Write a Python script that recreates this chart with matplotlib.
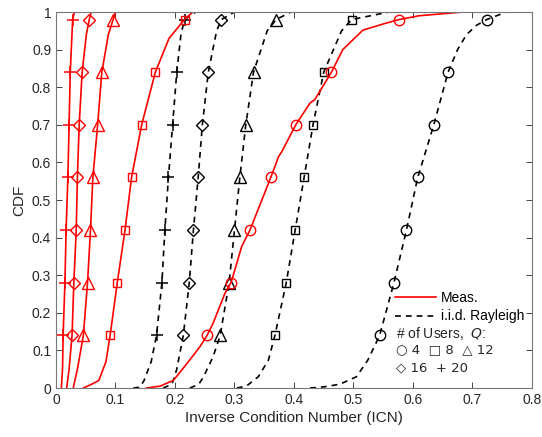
import numpy as np
import matplotlib.pyplot as plt
from matplotlib.lines import Line2D

# CDF levels where the markers sit
mark_levels = [0.14, 0.28, 0.42, 0.56, 0.70, 0.84, 0.98]

meas_q4_icn = [0.152, 0.175, 0.197, 0.205, 0.225, 0.242, 0.254, 0.264, 0.284, 0.294, 0.298, 0.312,
               0.326, 0.346, 0.361, 0.374, 0.380, 0.403, 0.427, 0.435, 0.463, 0.482, 0.516, 0.556,
               0.577, 0.610, 0.684]
meas_q4_cdf = [0.0, 0.005, 0.02, 0.035, 0.075, 0.11, 0.14, 0.172, 0.252, 0.28, 0.30, 0.376,
               0.42, 0.50, 0.56, 0.615, 0.63, 0.70, 0.758, 0.767, 0.84, 0.90, 0.952, 0.971,
               0.98, 0.99, 1.0]

meas_q8_icn = [0.046, 0.060, 0.072, 0.084, 0.091, 0.103, 0.116, 0.127, 0.144, 0.167, 0.190, 0.216, 0.230]
meas_q8_cdf = [0.0, 0.01, 0.02, 0.07, 0.14, 0.28, 0.42, 0.56, 0.70, 0.84, 0.93, 0.98, 1.0]

meas_q12_icn = [0.029, 0.036, 0.046, 0.053, 0.058, 0.062, 0.070, 0.077, 0.088, 0.096, 0.100]
meas_q12_cdf = [0.0, 0.05, 0.14, 0.28, 0.42, 0.56, 0.70, 0.84, 0.94, 0.98, 1.0]

meas_q16_icn = [0.018, 0.022, 0.027, 0.030, 0.034, 0.036, 0.039, 0.044, 0.051, 0.056, 0.059]
meas_q16_cdf = [0.0, 0.05, 0.14, 0.28, 0.42, 0.56, 0.70, 0.84, 0.94, 0.98, 1.0]

meas_q20_icn = [0.009, 0.011, 0.012, 0.015, 0.017, 0.020, 0.022, 0.024, 0.028, 0.031]
meas_q20_cdf = [0.0, 0.05, 0.14, 0.28, 0.42, 0.56, 0.70, 0.84, 0.98, 1.0]

# i.i.d. Rayleigh curves (black dashed)
iid_q4_icn = [0.427, 0.450, 0.477, 0.505, 0.524, 0.544, 0.568, 0.589, 0.608, 0.635, 0.659, 0.675,
              0.690, 0.707, 0.724, 0.757]
iid_q4_cdf = [0.0, 0.003, 0.01, 0.03, 0.074, 0.14, 0.28, 0.42, 0.56, 0.70, 0.84, 0.90,
              0.94, 0.965, 0.98, 1.0]

iid_q8_icn = [0.304, 0.320, 0.340, 0.357, 0.368, 0.387, 0.402, 0.417, 0.432, 0.450, 0.480, 0.497, 0.560]
iid_q8_cdf = [0.0, 0.005, 0.03, 0.074, 0.14, 0.28, 0.42, 0.56, 0.70, 0.84, 0.95, 0.98, 1.0]

iid_q12_icn = [0.225, 0.240, 0.248, 0.264, 0.276, 0.291, 0.300, 0.309, 0.319, 0.332, 0.355, 0.370, 0.395]
iid_q12_cdf = [0.0, 0.01, 0.03, 0.083, 0.14, 0.28, 0.42, 0.56, 0.70, 0.84, 0.95, 0.98, 1.0]

iid_q16_icn = [0.180, 0.195, 0.203, 0.214, 0.224, 0.231, 0.239, 0.246, 0.256, 0.270, 0.278, 0.300]
iid_q16_cdf = [0.0, 0.01, 0.05, 0.14, 0.28, 0.42, 0.56, 0.70, 0.84, 0.95, 0.98, 1.0]

iid_q20_icn = [0.130, 0.141, 0.148, 0.160, 0.169, 0.178, 0.183, 0.189, 0.196, 0.203, 0.210, 0.216, 0.235]
iid_q20_cdf = [0.0, 0.002, 0.02, 0.07, 0.14, 0.28, 0.42, 0.56, 0.70, 0.84, 0.94, 0.98, 1.0]

# marker style per number of users
marker_q4 = dict(marker='o', markersize=7.5)
marker_q8 = dict(marker='s', markersize=6)
marker_q12 = dict(marker='^', markersize=8)
marker_q16 = dict(marker='D', markersize=6)
marker_q20 = dict(marker='+', markersize=9, markeredgewidth=1.1)

plt.rcParams['font.family'] = ['Liberation Sans', 'DejaVu Sans']
txt_col = '#262626'

fig = plt.figure(figsize=(5.42, 4.37), dpi=100)
ax = fig.add_axes([0.1033, 0.1121, 0.8782, 0.8604])


def draw(icn, cdf, col, ls, mk):
    icn = np.array(icn)
    cdf = np.array(cdf)
    idx = [i for i, c in enumerate(cdf) if np.any(np.isclose(c, mark_levels))]
    ax.plot(icn, cdf, color=col, linestyle=ls, linewidth=1.2,
            markevery=idx, markerfacecolor='none', markeredgecolor=col,
            markeredgewidth=mk.pop('markeredgewidth', 1.0), **mk)


meas = [(meas_q4_icn, meas_q4_cdf, marker_q4), (meas_q8_icn, meas_q8_cdf, marker_q8),
        (meas_q12_icn, meas_q12_cdf, marker_q12), (meas_q16_icn, meas_q16_cdf, marker_q16),
        (meas_q20_icn, meas_q20_cdf, marker_q20)]
iid = [(iid_q4_icn, iid_q4_cdf, marker_q4), (iid_q8_icn, iid_q8_cdf, marker_q8),
       (iid_q12_icn, iid_q12_cdf, marker_q12), (iid_q16_icn, iid_q16_cdf, marker_q16),
       (iid_q20_icn, iid_q20_cdf, marker_q20)]

for x, y, mk in iid:
    draw(x, y, 'black', (0, (3.5, 3)), dict(mk))
for x, y, mk in meas:
    draw(x, y, '#ff0000', '-', dict(mk))

ax.set_xlim(0, 0.8)
ax.set_ylim(0, 1)
ax.set_xticks(np.arange(0, 0.81, 0.1))
ax.set_xticklabels(['0', '0.1', '0.2', '0.3', '0.4', '0.5', '0.6', '0.7', '0.8'])
ax.set_yticks(np.arange(0, 1.01, 0.1))
ax.set_yticklabels(['0', '0.1', '0.2', '0.3', '0.4', '0.5', '0.6', '0.7', '0.8', '0.9', '1'])
ax.tick_params(direction='in', top=True, right=True, labelsize=10, colors=txt_col,
               length=4, width=0.6)
for sp in ax.spines.values():
    sp.set_color('#777777')
    sp.set_linewidth(0.8)
ax.set_xlabel('Inverse Condition Number (ICN)', fontsize=11, color=txt_col, labelpad=3)
ax.set_ylabel('CDF', fontsize=11, color=txt_col, labelpad=4)

# legend
handles = [Line2D([], [], color='#ff0000', linewidth=1.2),
           Line2D([], [], color='black', linestyle=(0, (3.5, 3)), linewidth=1.2)]
ax.legend(handles, ['Meas.', 'i.i.d. Rayleigh'], loc='upper left',
          bbox_to_anchor=(0.70, 0.272), frameon=False, fontsize=10,
          handlelength=3.0, handletextpad=0.3, labelspacing=0.3, borderaxespad=0)
ax.text(0.714, 0.146, '# of Users,  $Q$:', transform=ax.transAxes, fontsize=10,
        color=txt_col, va='center')
ax.text(0.714, 0.101, '○ 4  □ 8  △ 12', transform=ax.transAxes, fontsize=9.5,
        color=txt_col, va='center', family=['DejaVu Sans'])
ax.text(0.714, 0.053, '◇ 16  + 20', transform=ax.transAxes, fontsize=9.5,
        color=txt_col, va='center', family=['DejaVu Sans'])

fig.savefig('out.png', dpi=100)
